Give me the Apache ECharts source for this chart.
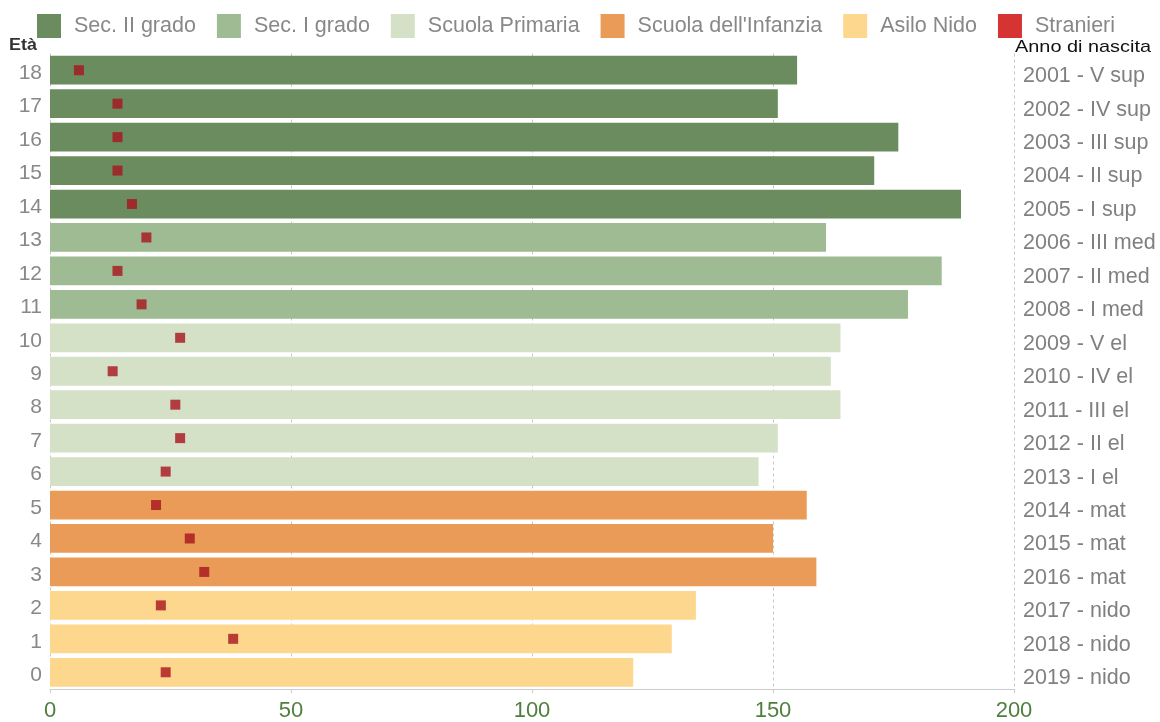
<!DOCTYPE html>
<html><head><meta charset="utf-8">
<script src="https://cdn.jsdelivr.net/npm/echarts@6/dist/echarts.min.js"></script>
<style>html,body{margin:0;padding:0;background:#fff}#c{width:1160px;height:722px}</style>
</head><body><div id="c"></div>
<script>
const ages = ['0','1','2','3','4','5','6','7','8','9','10','11','12','13','14','15','16','17','18'];
const years = ['2019 - nido','2018 - nido','2017 - nido','2016 - mat','2015 - mat','2014 - mat','2013 - I el','2012 - II el','2011 - III el','2010 - IV el','2009 - V el','2008 - I med','2007 - II med','2006 - III med','2005 - I sup','2004 - II sup','2003 - III sup','2002 - IV sup','2001 - V sup'];
const totals = [121,129,134,159,150,157,147,151,164,162,164,178,185,161,189,171,176,151,155];
const stranieri = [24,38,23,32,29,22,24,27,26,13,27,19,14,20,17,14,14,14,6];
const groups = [
  {name:'Sec. II grado', from:14, to:18, color:'#6b8c5e'},
  {name:'Sec. I grado', from:11, to:13, color:'#9fbb93'},
  {name:'Scuola Primaria', from:6, to:10, color:'#d4e1c6'},
  {name:"Scuola dell'Infanzia", from:3, to:5, color:'#ea9b57'},
  {name:'Asilo Nido', from:0, to:2, color:'#fed78e'}
];

const chart = echarts.init(document.getElementById('c'));
const FONT = 'Liberation Sans, Arial, sans-serif';
const series = groups.map(g => ({
  name: g.name, type: 'bar', stack: 'tot', barCategoryGap: '14%',
  itemStyle: {color: g.color},
  data: totals.map((v,i) => (i>=g.from && i<=g.to) ? v : '-'),
  z: 2
}));
series.push({
  name:'Stranieri', type:'scatter', symbol:'rect', symbolSize:10,
  itemStyle:{color:'#a8141e'}, data: stranieri.map((v,i)=>[v,i]), z:5
});
chart.setOption({
  animation:false,
  textStyle:{fontFamily:FONT},
  legend:{
    left:32, top:9, itemWidth:24, itemHeight:24, itemGap:21, icon:'rect',
    textStyle:{fontSize:21.5, color:'#888888', fontFamily:FONT, padding:[0,0,0,8]},
    data: groups.map(g=>({name:g.name})).concat([{name:'Stranieri', itemStyle:{color:'#cc0000'}}])
  },
  grid:{left:50, right:146, top:53.5, bottom:33},
  xAxis:{
    type:'value', min:0, max:200, interval:50,
    axisLine:{show:true, lineStyle:{color:'#cccccc'}},
    axisTick:{show:true, length:4, lineStyle:{color:'#cccccc'}},
    axisLabel:{fontSize:22, color:'#4f7f3e', margin:11, fontFamily:FONT},
    splitLine:{show:true, lineStyle:{color:'#c8c8c8', type:[3,3]}}
  },
  yAxis:[
    {type:'category', data:ages, position:'left',
     axisLine:{show:false}, axisTick:{show:false},
     axisLabel:{fontSize:21, color:'#888888', margin:8, verticalAlign:'top', lineHeight:6, fontFamily:FONT}},
    {type:'category', data:years, position:'right',
     axisLine:{show:false}, axisTick:{show:false},
     axisLabel:{fontSize:21.5, color:'#808080', margin:9, verticalAlign:'top', lineHeight:12, fontFamily:FONT}}
  ],
  graphic:[
    {type:'text', left:9, top:38, scaleX:1.12, style:{text:'Età', fontSize:16, fontWeight:'bold', fill:'#333', fontFamily:FONT}},
    {type:'text', left:1015, top:39, scaleX:1.17, style:{text:'Anno di nascita', fontSize:17, fill:'#111', fontFamily:FONT}}
  ],
  series: series
});
</script></body></html>
